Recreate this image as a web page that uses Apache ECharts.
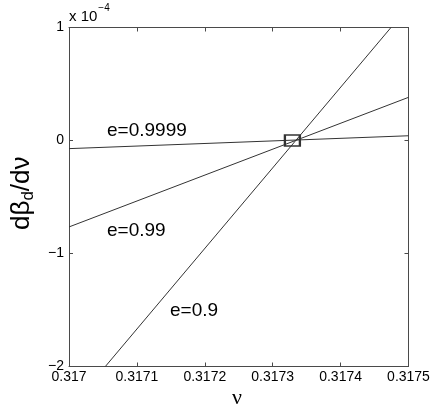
<!DOCTYPE html>
<html>
<head>
<meta charset="utf-8">
<script src="https://cdn.jsdelivr.net/npm/echarts@6/dist/echarts.min.js"></script>
<style>html,body{margin:0;padding:0;background:#fff}#c{width:436px;height:414px}</style>
</head>
<body>
<div id="c"></div>
<script>
// x values: nu ; y values in units of 1e-4
const xTicks = [0.317, 0.3171, 0.3172, 0.3173, 0.3174, 0.3175];
const yTicks = [-2, -1, 0, 1];
const seriesNames = ['e=0.9', 'e=0.99', 'e=0.9999'];
const lineE09 = [[0.3170535, -2], [0.3174742, 1]];
const lineE099 = [[0.317, -0.765], [0.3175, 0.382]];
const lineE09999 = [[0.317, -0.072], [0.3175, 0.042]];
const crossPoint = [[0.317329, 0]];

const chart = echarts.init(document.getElementById('c'));
const axisCol = '#4a4a4a';
const fontF = '"Liberation Sans", Arial, Helvetica, sans-serif';
const xFmt = v => String(parseFloat(v.toFixed(4)));
const yFmt = v => String(Math.round(v)).replace('-', '\u2212');
const lineStyle = {color: '#333', width: 1};

function lineSeries(name, data) {
  return {name, type: 'line', data, symbol: 'none', lineStyle, silent: true, animation: false};
}
function axisBase(extra) {
  return Object.assign({
    type: 'value',
    axisLine: {show: true, onZero: false, lineStyle: {color: axisCol, width: 1}},
    axisTick: {show: true, inside: true, length: 4, lineStyle: {color: axisCol}},
    splitLine: {show: false}
  }, extra);
}

chart.setOption({
  animation: false,
  grid: {left: 69, top: 27.5, width: 339.5, height: 339, containLabel: false},
  xAxis: [
    axisBase({min: xTicks[0], max: xTicks[xTicks.length - 1], interval: 0.0001,
      axisLabel: {formatter: xFmt, color: '#000', fontSize: 14, fontFamily: fontF, margin: 4}}),
    axisBase({position: 'top', min: xTicks[0], max: xTicks[xTicks.length - 1], interval: 0.0001,
      axisLabel: {show: false}})
  ],
  yAxis: [
    axisBase({min: yTicks[0], max: yTicks[yTicks.length - 1], interval: 1,
      axisLabel: {formatter: yFmt, color: '#000', fontSize: 14, fontFamily: fontF, margin: 5}}),
    axisBase({position: 'right', min: yTicks[0], max: yTicks[yTicks.length - 1], interval: 1,
      axisLabel: {show: false}})
  ],
  series: [
    lineSeries(seriesNames[0], lineE09),
    lineSeries(seriesNames[1], lineE099),
    lineSeries(seriesNames[2], lineE09999),
    {
      type: 'scatter', data: crossPoint, symbol: 'rect', symbolSize: [15, 11],
      itemStyle: {color: 'rgba(0,0,0,0)', borderColor: '#000', borderWidth: 2}, silent: true
    }
  ],
  graphic: [
    {type: 'text', left: 107, top: 121, style: {text: seriesNames[2], fontSize: 19, fontFamily: fontF, fill: '#000'}},
    {type: 'text', left: 107, top: 221, style: {text: seriesNames[1], fontSize: 19, fontFamily: fontF, fill: '#000'}},
    {type: 'text', left: 170, top: 301, style: {text: seriesNames[0], fontSize: 19, fontFamily: fontF, fill: '#000'}},
    {type: 'text', left: 69, top: 3, style: {
      text: '{a|x 10}{s|\u22124}', rich: {
        a: {fontSize: 15, fontFamily: fontF, fill: '#000', padding: [9, 0, 0, 0]},
        s: {fontSize: 10, fontFamily: fontF, fill: '#000', padding: [0, 0, 9, 1]}
      }}},
    {type: 'text', x: 6, y: 230, rotation: Math.PI / 2, style: {
      text: '{a|d\u03b2}{s|d}{a|/d\u03bd}', rich: {
        a: {fontSize: 26, fontFamily: fontF, fill: '#000'},
        s: {fontSize: 17, fontFamily: fontF, fill: '#000', padding: [14, 0, 0, 0]}
      }}},
    {type: 'text', left: 232, top: 387, style: {text: '\u03bd', fontSize: 22, fontFamily: '"Liberation Serif", "DejaVu Serif", serif', fill: '#000'}}
  ]
});
</script>
</body>
</html>
